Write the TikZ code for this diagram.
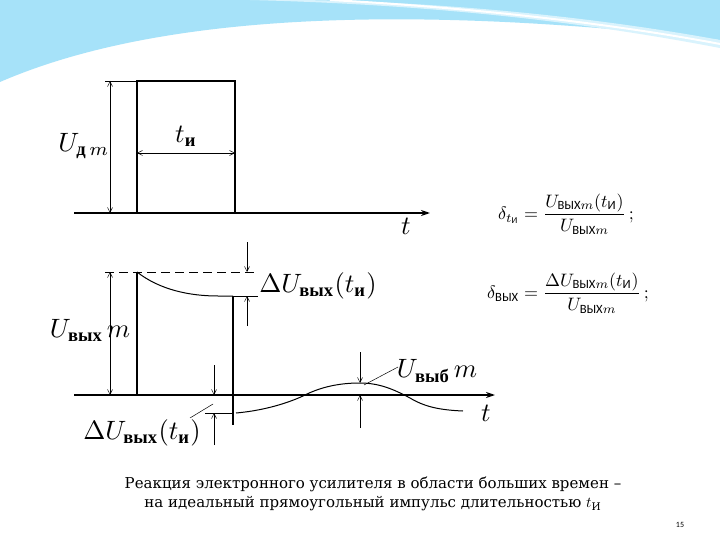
\documentclass[tikz,border=0pt]{standalone}
\usepackage{amsmath}
\usepackage{fontspec}
\setmainfont{Liberation Serif}
\newfontfamily\carl{Carlito}
\newfontfamily\capf{DejaVu Serif}
\usetikzlibrary{arrows.meta}
\begin{document}
\begin{tikzpicture}[x=1pt,y=-1pt,
  thick/.style={line width=1.6pt},
  axis/.style={line width=1.6pt,-{Stealth[length=9pt,width=6pt]}},
  dim/.style={line width=0.5pt,{Straight Barb[length=5pt,width=5pt]}-{Straight Barb[length=5pt,width=5pt]}},
  tip/.style={line width=0.5pt,-{Straight Barb[length=5pt,width=5pt]}},
  thin/.style={line width=0.5pt},
  lab/.style={scale=2.65,inner sep=0pt},
  frm/.style={font=\carl,scale=1.8,inner sep=0pt}]
\useasboundingbox (0,0) rectangle (720,540);
\fill[white] (0,0) rectangle (720,540);
% decoration
\fill[cyan!35!white] (0,0) -- (0,82) .. controls (120,30) and (330,-5) .. (720,40) -- (720,0) -- cycle;
\fill[cyan!15!white] (250,0) .. controls (450,5) and (600,25) .. (720,48) -- (720,40) .. controls (600,18) and (450,2) .. (300,0) -- cycle;
\draw[white,line width=2pt] (330,0) .. controls (480,8) and (620,25) .. (720,44);
% top graph
\coordinate (o1) at (74,213);
\coordinate (e1) at (430,213);
\draw[axis] (o1) -- (e1);
\draw[thick] (137,213) -- (137,81) -- (235,81) -- (235,213);
\draw[thin] (105,81) -- (137,81);
\coordinate (a1) at (110,81); \coordinate (a2) at (110,213);
\draw[dim] (a1) -- (a2);
\coordinate (b1) at (137,153); \coordinate (b2) at (235,153);
\draw[dim] (b1) -- (b2);
\node[lab] (ti) at (186,136) {$t_{\text{\bfseries и}}$};
\node[lab] (ud) at (84,146) {$U_{\text{\bfseries д}\,m}$};
\node[lab] (t1) at (406,226) {$t$};
% bottom graph
\coordinate (o2) at (74,395);
\coordinate (e2) at (495,395);
\draw[axis] (o2) -- (e2);
\draw[thick] (137,395) -- (137,272);
\draw[thin,dash pattern=on 9pt off 5pt] (105,272) -- (258,272);
\draw[line width=1pt] (137,272) .. controls (160,290) and (190,296) .. (218,296) -- (233,296);
\draw[thin] (233,296) -- (258,296);
\draw[thick] (233,296) -- (233,425);
\coordinate (c1) at (110,272); \coordinate (c2) at (110,395);
\draw[dim] (c1) -- (c2);
\coordinate (d1) at (247,242); \coordinate (d2) at (247,272);
\coordinate (d3) at (247,326); \coordinate (d4) at (247,296);
\draw[tip] (d1) -- (d2); \draw[tip] (d3) -- (d4);
\node[lab] (du1) at (318,286) {$\Delta U_{\text{\bfseries вых}}(t_{\text{\bfseries и}})$};
\node[lab] (uv) at (90,330) {$U_{\text{\bfseries вых}\,}m$};
\draw[line width=1pt] (236,413) .. controls (270,410) and (295,400) .. (305,395) .. controls (325,385) and (345,383) .. (360,383) .. controls (380,383) and (395,390) .. (410,398) .. controls (425,407) and (440,410) .. (463,411);
\draw[thin] (205,413) -- (233,413);
\coordinate (f1) at (214,365); \coordinate (f2) at (214,395);
\coordinate (f3) at (214,445); \coordinate (f4) at (214,413);
\draw[tip] (f1) -- (f2); \draw[tip] (f3) -- (f4);
\node[lab] (du2) at (142,433) {$\Delta U_{\text{\bfseries вых}}(t_{\text{\bfseries и}})$};
\draw[thin] (190,418) -- (213,404);
\coordinate (g1) at (360,352); \coordinate (g2) at (360,383);
\coordinate (g3) at (360,428); \coordinate (g4) at (360,395);
\draw[tip] (g1) -- (g2); \draw[tip] (g3) -- (g4);
\node[lab] (ub) at (437,371) {$U_{\text{\bfseries выб}\,}m$};
\draw[thin] (364,385) -- (398,367);
\node[lab] (t2) at (486,413) {$t$};
% formulas
\node[frm] (f1n) at (566,214)
 {$\delta_{t_{\text{И}}} = \dfrac{U_{\text{ВЫХ}m}(t_{\text{И}})}{U_{\text{ВЫХ}m}}\,;$};
\node[frm] (f2n) at (568,293)
 {$\delta_{\text{ВЫХ}} = \dfrac{\Delta U_{\text{ВЫХ}m}(t_{\text{И}})}{U_{\text{ВЫХ}m}}\,;$};
% caption
\node[font=\capf,scale=1.5,align=center,inner sep=0pt] (cap) at (373,494)
 {Реакция электронного усилителя в области больших времен –\\[1pt]на идеальный прямоугольный импульс длительностью $t_{\text{И}}$};
\node[font=\carl\fontsize{8}{9}\selectfont,inner sep=0pt] (pg) at (680,525) {15};
\end{tikzpicture}
\end{document}
